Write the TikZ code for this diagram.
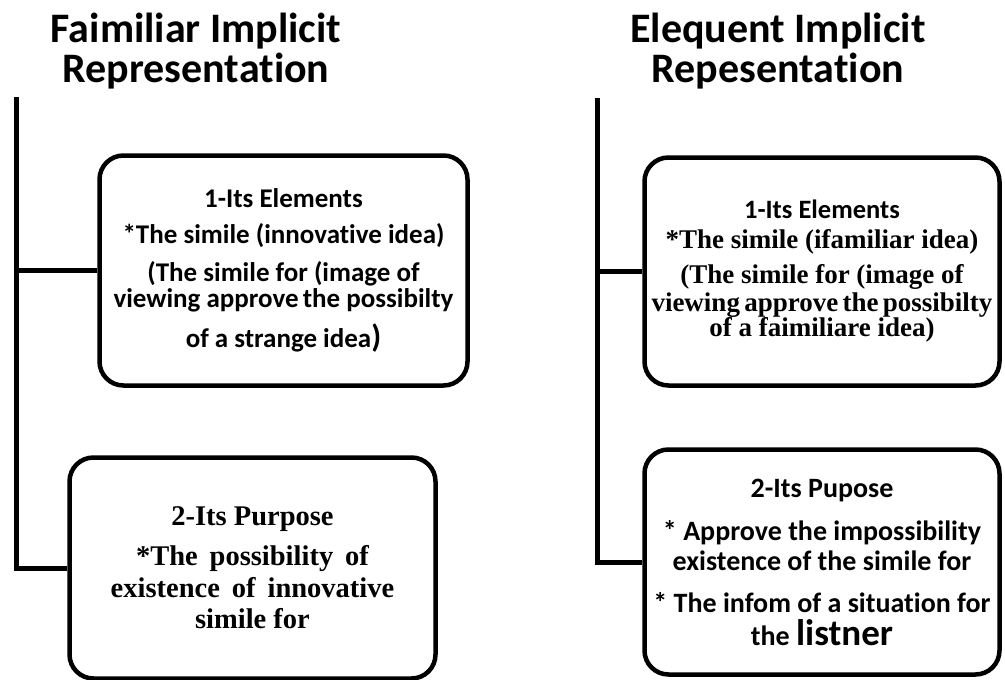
\documentclass[tikz,border=0pt]{standalone}
\usepackage{fontspec}
\newfontfamily\calfont{Carlito}[Ligatures={NoCommon,NoContextual}]
\newfontfamily\tmsfont{Liberation Serif}
\newcommand{\tmsline}{\tmsfont\fontsize{27}{26}\selectfont}
\newcommand{\tightlines}{\lineskiplimit=-100pt\relax}
\newcommand{\narrowspaces}{\spaceskip=0.16em plus 0.05em\relax}
\newcommand{\widespaces}{\spaceskip=0.42em plus 0.05em\relax}
\begin{document}
\begin{tikzpicture}[x=1pt,y=-1pt,line width=5pt,
  box/.style={draw,rounded corners=24pt,align=center,inner sep=0pt,line width=4.5pt},
  titletext/.style={font=\calfont\bfseries\fontsize{42}{40}\selectfont,align=center,anchor=base,inner sep=0pt},
  trunk/.style={line width=5pt}]
\useasboundingbox (0,0) rectangle (1005,680);

\node[titletext] (t1) at (196,82) {Faimiliar Implicit\\Representation};
\node[titletext] (t2) at (778,82) {Elequent Implicit\\Repesentation};

\node[box,minimum width=368pt,minimum height=230pt,
  font={\calfont\bfseries\fontsize{27}{25}\selectfont\tightlines}] (lb1) at (283.5,270.5)
  {1-Its Elements\\[11pt]
   *The simile (innovative idea)\\[13pt]
   (The simile for (image of\\[1pt]
   viewing approve\kern-2pt{} the possibilty\\[15pt]
   of a strange idea\smash{\fontsize{32}{32}\selectfont)}};

\node[box,minimum width=366pt,minimum height=221pt,
  font={\tmsfont\bfseries\fontsize{28.5}{31.5}\selectfont\tightlines}] (lb2) at (252.5,568)
  {2-Its Purpose\\[8.5pt]
   {\widespaces *The possibility of}\\
   {\widespaces existence of innovative}\\
   simile for};

\node[box,minimum width=355pt,minimum height=228pt,
  font={\calfont\bfseries\fontsize{26.5}{26}\selectfont\tightlines}] (rb1) at (822,271.5)
  {1-Its Elements\\[4pt]
   {\tmsline *The simile (ifamiliar idea)}\\[9pt]
   {\tmsline (The simile for (image of}\\[2pt]
   {\tmsline\narrowspaces viewing approve the possibilty}\\[-1pt]
   {\tmsline of a faimiliare idea)}};

\node[box,minimum width=355pt,minimum height=225pt,
  font={\calfont\bfseries\fontsize{28}{30}\selectfont\tightlines}] (rb2) at (822,562)
  {2-Its Pupose\\[13pt]
   * Approve the impossibility\\
   existence of the simile for\\[12pt]
   * The infom of a situation for\\[3pt]
   the {\fontsize{37}{37}\selectfont listner}};

\coordinate (ltop) at (16,97);
\coordinate (rtop) at (597,98);
\draw[trunk] (ltop) |- (lb2.west);
\draw[trunk] (ltop |- lb1.west) -- (lb1.west);
\draw[trunk] (rtop) |- (rb2.west);
\draw[trunk] (rtop |- rb1.west) -- (rb1.west);
\end{tikzpicture}
\end{document}
